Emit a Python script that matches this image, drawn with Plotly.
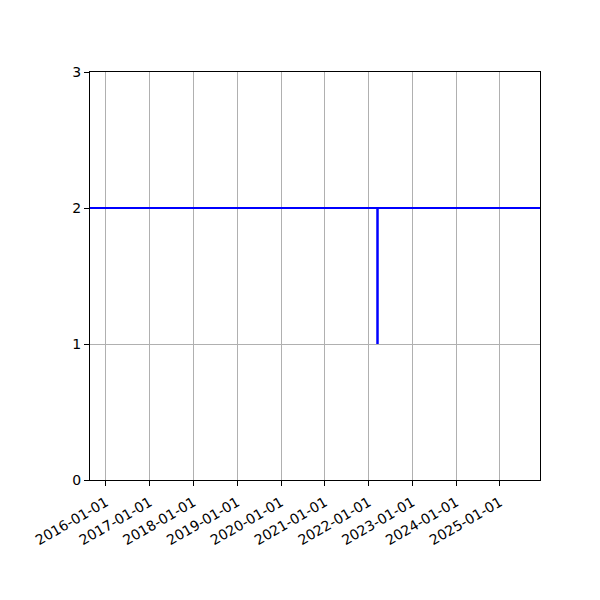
import plotly.graph_objects as go

# --- data ---
x_range = ["2015-08-21", "2025-12-01"]
level_dates = ["2015-08-21", "2025-12-01"]
level_values = [2, 2]
drop_dates = ["2022-03-16", "2022-03-16"]
drop_values = [2, 1]
tick_dates = [f"{y}-01-01" for y in range(2016, 2026)]
y_ticks = [0, 1, 2, 3]

fig = go.Figure()

fig.add_trace(go.Scatter(x=drop_dates, y=drop_values, mode="lines",
                         line=dict(color="#0000ff", width=2.5), showlegend=False))
fig.add_trace(go.Scatter(x=level_dates, y=level_values, mode="lines",
                         line=dict(color="#0000ff", width=2), showlegend=False))

axis_style = dict(
    showline=True, linecolor="black", linewidth=1, mirror=True,
    ticks="outside", ticklen=5, tickcolor="black", tickwidth=1,
    showgrid=True, gridcolor="#b0b0b0", gridwidth=0.8,
    zeroline=False,
    tickfont=dict(family="DejaVu Sans", size=14, color="black"),
)

fig.update_xaxes(type="date", range=x_range, tickvals=tick_dates, ticktext=tick_dates,
                 tickangle=-30, ticklabelstandoff=3, **axis_style)
fig.update_yaxes(range=[0, 3], tickvals=y_ticks, **axis_style)

# page body adds ~8px offset, so margins are trimmed to match
fig.update_layout(
    width=600, height=600,
    margin=dict(l=82, r=68, t=64, b=128),
    plot_bgcolor="white", paper_bgcolor="white",
    showlegend=False,
)

fig.write_html("out.html")
